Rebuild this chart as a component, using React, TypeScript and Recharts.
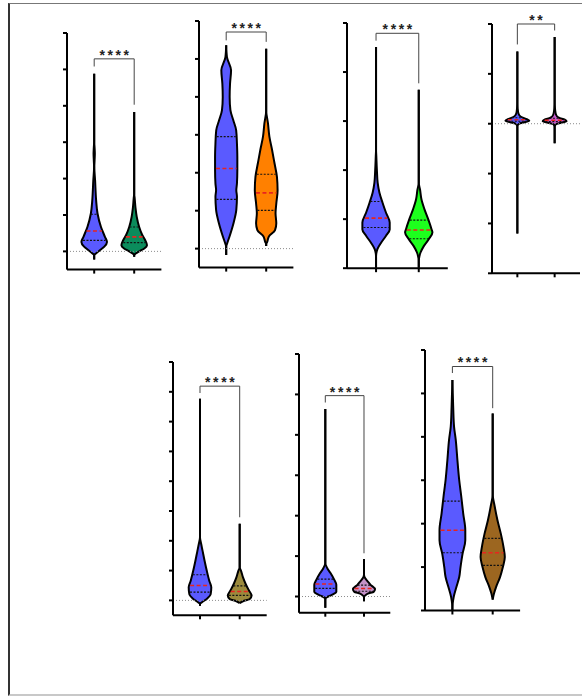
import React from 'react';
import { ComposedChart, Area, XAxis, YAxis, ReferenceLine } from 'recharts';

// Violin outlines: [value, relative density], listed from the top of each violin down
type Profile = [number, number][];

const eyeCtrl: Profile = [[4.88, 0], [3.05, 0], [2.85, 0.03], [2.68, 0.05], [2.5, 0.03], [2.32, 0.01], [1.95, 0.07], [1.41, 0.15], [1.04, 0.26], [0.67, 0.53], [0.4, 0.84], [0.26, 1.0], [0.13, 0.79], [0.04, 0.47], [-0.05, 0.16], [-0.1, 0], [-0.22, 0]];
const eyeTreated: Profile = [[3.83, 0], [1.6, 0], [1.45, 0.04], [1.2, 0.1], [0.95, 0.2], [0.67, 0.39], [0.45, 0.63], [0.3, 0.87], [0.17, 1.0], [0.08, 0.79], [0.0, 0.39], [-0.06, 0.12], [-0.1, 0], [-0.15, 0]];

const areaCtrl: Profile = [[5.36, 0], [5.05, 0.06], [4.7, 0.38], [4.35, 0.3], [4.0, 0.27], [3.65, 0.33], [3.39, 0.55], [3.12, 0.78], [2.77, 0.84], [2.42, 0.87], [2.07, 0.87], [1.72, 0.84], [1.54, 0.79], [1.37, 0.84], [1.02, 0.79], [0.67, 0.57], [0.32, 0.26], [0.14, 0.08], [0.05, 0], [-0.17, 0]];
const areaTreated: Profile = [[5.27, 0], [3.65, 0], [3.3, 0.14], [2.95, 0.25], [2.6, 0.46], [2.25, 0.65], [1.89, 0.84], [1.54, 0.89], [1.19, 0.79], [0.93, 0.73], [0.67, 0.79], [0.49, 0.69], [0.32, 0.21], [0.18, 0.08], [0.12, 0], [0.07, 0]];

const lenCtrl: Profile = [[4.51, 0], [2.42, 0], [2.28, 0.02], [2.01, 0.06], [1.74, 0.12], [1.54, 0.25], [1.34, 0.47], [1.13, 0.73], [0.93, 1.0], [0.79, 1.0], [0.66, 0.73], [0.52, 0.37], [0.39, 0.1], [0.3, 0.02], [0.22, 0], [0.01, 0]];
const lenTreated: Profile = [[3.64, 0], [1.74, 0], [1.61, 0.09], [1.4, 0.2], [1.2, 0.42], [1.0, 0.69], [0.79, 0.94], [0.73, 1.0], [0.59, 0.73], [0.45, 0.37], [0.32, 0.13], [0.2, 0.02], [0.12, 0], [0.01, 0]];

const shiftCtrl: Profile = [[1.45, 0], [0.48, 0], [0.3, 0.03], [0.2, 0.1], [0.14, 0.3], [0.09, 0.8], [0.06, 1.0], [0.03, 0.6], [0.0, 0.15], [-0.05, 0], [-2.2, 0]];
const shiftTreated: Profile = [[1.74, 0], [0.45, 0], [0.28, 0.04], [0.18, 0.12], [0.12, 0.35], [0.08, 0.85], [0.05, 1.0], [0.02, 0.55], [-0.01, 0.1], [-0.06, 0], [-0.39, 0]];

const countCtrl: Profile = [[6.77, 0], [2.12, 0], [1.9, 0.09], [1.67, 0.2], [1.33, 0.36], [1.0, 0.53], [0.66, 0.73], [0.44, 0.89], [0.21, 0.84], [0.05, 0.53], [-0.07, 0.13], [-0.12, 0], [-0.18, 0]];
const countTreated: Profile = [[2.57, 0], [1.11, 0], [1.0, 0.1], [0.77, 0.26], [0.55, 0.47], [0.33, 0.73], [0.16, 0.94], [0.05, 0.79], [-0.03, 0.26], [-0.09, 0]];

const ratioCtrl: Profile = [[4.64, 0], [0.83, 0], [0.7, 0.16], [0.58, 0.42], [0.41, 0.73], [0.29, 0.89], [0.12, 0.89], [0.04, 0.53], [-0.02, 0.1], [-0.06, 0], [-0.28, 0]];
const ratioTreated: Profile = [[0.93, 0], [0.54, 0], [0.45, 0.1], [0.37, 0.31], [0.29, 0.53], [0.18, 0.89], [0.12, 0.79], [0.07, 0.31], [0.02, 0.08], [-0.02, 0], [-0.12, 0]];

const sizeCtrl: Profile = [[5.31, 0], [4.7, 0.06], [4.23, 0.13], [3.93, 0.26], [3.46, 0.39], [3.0, 0.53], [2.62, 0.69], [2.23, 0.84], [1.85, 1.0], [1.62, 1.0], [1.31, 0.79], [1.0, 0.63], [0.77, 0.53], [0.54, 0.31], [0.31, 0.1], [0.15, 0.02], [0.0, 0]];
const sizeTreated: Profile = [[4.54, 0], [2.69, 0], [2.39, 0.16], [2.08, 0.37], [1.77, 0.63], [1.46, 0.84], [1.23, 0.94], [1.0, 0.79], [0.77, 0.57], [0.54, 0.26], [0.39, 0.1], [0.25, 0]];

// Quartiles per violin: [Q3, median, Q1]
const eyeQ: [number, number, number][] = [[1.02, 0.56, 0.3], [0.67, 0.4, 0.24]];
const areaQ: [number, number, number][] = [[2.95, 2.11, 1.3], [1.96, 1.47, 1.01]];
const lenQ: [number, number, number][] = [[1.36, 1.02, 0.83], [0.98, 0.78, 0.6]];
const shiftQ: [number, number, number][] = [[0.12, 0.08, 0.05], [0.11, 0.07, 0.04]];
const countQ: [number, number, number][] = [[0.86, 0.5, 0.28], [0.49, 0.3, 0.17]];
const ratioQ: [number, number, number][] = [[0.43, 0.31, 0.2], [0.28, 0.2, 0.13]];
const sizeQ: [number, number, number][] = [[2.52, 1.85, 1.33], [1.66, 1.33, 1.04]];

// Significance brackets: [bar level, left leg end, right leg end]
const eyeBracket = [5.29, 5.08, 4.03];
const areaBracket = [5.71, 5.49, 5.45];
const lenBracket = [4.79, 4.64, 3.77];
const shiftBracket = [2.0, 1.59, 1.87];
const countBracket = [7.19, 6.96, 2.79];
const ratioBracket = [4.97, 4.8, 1.07];
const sizeBracket = [5.62, 5.47, 4.66];

const stars = ['****', '****', '****', '**', '****', '****', '****'];

// Y tick values for each panel
const ticks0to6 = [0, 1, 2, 3, 4, 5, 6];
const ticks0to5 = [0, 1, 2, 3, 4, 5];
const ticksShift = [-3, -2, -1, 0, 1, 2];
const ticks0to8 = [0, 1, 2, 3, 4, 5, 6, 7, 8];

const BLUE = '#5a5aff';
const X_DOMAIN: [number, number] = [0.32, 2.68];
const HALF = 0.32;

interface PanelSpec {
  box: [number, number, number, number];
  yDomain: [number, number];
  yTicks: number[];
  profiles: [Profile, Profile];
  quartiles: [number, number, number][];
  fills: [string, string];
  bracket: number[];
  stars: string;
  zeroLine: boolean;
}

const panels: PanelSpec[] = [
  { box: [66.7, 32.7, 94.4, 236.6], yDomain: [-0.5, 6], yTicks: ticks0to6, profiles: [eyeCtrl, eyeTreated], quartiles: eyeQ, fills: [BLUE, '#0b8c5c'], bracket: eyeBracket, stars: stars[0], zeroLine: true },
  { box: [199, 20.7, 94.4, 246.6], yDomain: [-0.5, 6], yTicks: ticks0to6, profiles: [areaCtrl, areaTreated], quartiles: areaQ, fills: [BLUE, '#ff8000'], bracket: areaBracket, stars: stars[1], zeroLine: true },
  { box: [346.7, 23.3, 100.8, 245.2], yDomain: [0, 5], yTicks: ticks0to5, profiles: [lenCtrl, lenTreated], quartiles: lenQ, fills: [BLUE, '#1dff1d'], bracket: lenBracket, stars: stars[2], zeroLine: false },
  { box: [492, 24, 88, 249.3], yDomain: [-3, 2], yTicks: ticksShift, profiles: [shiftCtrl, shiftTreated], quartiles: shiftQ, fills: [BLUE, '#c95ad0'], bracket: shiftBracket, stars: stars[3], zeroLine: true },
  { box: [172.7, 361.7, 93.7, 253.3], yDomain: [-0.5, 8], yTicks: ticks0to8, profiles: [countCtrl, countTreated], quartiles: countQ, fills: [BLUE, '#9b8a3c'], bracket: countBracket, stars: stars[4], zeroLine: true },
  { box: [298.6, 354, 91.3, 258.7], yDomain: [-0.4, 6], yTicks: ticks0to6, profiles: [ratioCtrl, ratioTreated], quartiles: ratioQ, fills: [BLUE, '#c592c8'], bracket: ratioBracket, stars: stars[5], zeroLine: true },
  { box: [425, 350, 95.1, 260.5], yDomain: [0, 6], yTicks: ticks0to6, profiles: [sizeCtrl, sizeTreated], quartiles: sizeQ, fills: [BLUE, '#9c6620'], bracket: sizeBracket, stars: stars[6], zeroLine: false },
];

function densityAt(profile: Profile, v: number): number {
  for (let i = 0; i < profile.length - 1; i++) {
    const [v0, d0] = profile[i];
    const [v1, d1] = profile[i + 1];
    if (v <= v0 && v >= v1) {
      const t = v0 === v1 ? 0 : (v0 - v) / (v0 - v1);
      return d0 + t * (d1 - d0);
    }
  }
  return 0;
}

function outline(profile: Profile, center: number) {
  return profile.map(([v, d]) => ({ v, span: [center - d * HALF, center + d * HALF] }));
}

// Tick marks only, no tick text
const NoLabel = () => <g />;

const M = { top: 22, right: 10, bottom: 0, left: 0 };

function Panel({ spec }: { spec: PanelSpec }) {
  const [left, top, w, h] = spec.box;
  const [bar, legL, legR] = spec.bracket;
  return (
    <div style={{ position: 'absolute', left: left - 10, top: top - 22 }}>
      <ComposedChart layout="vertical" width={w + 20} height={h + 32} margin={M}>
        <XAxis
          type="number"
          domain={X_DOMAIN}
          ticks={[1, 2]}
          interval={0}
          tick={NoLabel}
          tickSize={4}
          height={10}
          allowDataOverflow
          axisLine={{ stroke: '#000', strokeWidth: 2 }}
          tickLine={{ stroke: '#000', strokeWidth: 2 }}
        />
        <YAxis
          type="number"
          dataKey="v"
          reversed
          domain={spec.yDomain}
          ticks={spec.yTicks}
          interval={0}
          tick={NoLabel}
          tickSize={4}
          width={10}
          allowDataOverflow
          axisLine={{ stroke: '#000', strokeWidth: 2 }}
          tickLine={{ stroke: '#000', strokeWidth: 2 }}
        />
        {spec.zeroLine && (
          <ReferenceLine y={0} stroke="#8a8a8a" strokeWidth={1} strokeDasharray="1 2" />
        )}
        {spec.profiles.map((p, i) => (
          <Area
            key={`v${i}`}
            data={outline(p, i + 1)}
            dataKey="span"
            type="monotone"
            fill={spec.fills[i]}
            fillOpacity={1}
            stroke="#000"
            strokeWidth={2}
            dot={false}
            activeDot={false}
            isAnimationActive={false}
          />
        ))}
        {spec.quartiles.map((q, i) =>
          q.map((val, j) => {
            const c = i + 1;
            const half = densityAt(spec.profiles[i], val) * HALF * 0.92;
            const isMedian = j === 1;
            return (
              <ReferenceLine
                key={`q${i}-${j}`}
                segment={[{ x: c - half, y: val }, { x: c + half, y: val }]}
                stroke={isMedian ? '#e8251f' : '#111'}
                strokeWidth={isMedian ? 1.6 : 1.2}
                strokeDasharray={isMedian ? '4 2.5' : '2 1.5'}
              />
            );
          })
        )}
        <ReferenceLine segment={[{ x: 1, y: legL }, { x: 1, y: bar }]} stroke="#444" strokeWidth={1} />
        <ReferenceLine segment={[{ x: 2, y: legR }, { x: 2, y: bar }]} stroke="#444" strokeWidth={1} />
        <ReferenceLine
          segment={[{ x: 1, y: bar }, { x: 2, y: bar }]}
          stroke="#444"
          strokeWidth={1}
          label={{
            value: spec.stars,
            position: 'top',
            offset: -1,
            fontSize: 14,
            fontWeight: 'bold',
            fill: '#222',
            letterSpacing: 2.6,
            dx: 1.3,
            fontFamily: 'Liberation Sans, Arial, sans-serif',
          }}
        />
      </ComposedChart>
    </div>
  );
}

export default function App() {
  return (
    <div style={{ position: 'absolute', left: 0, top: 0, width: 582, height: 696, background: '#fff', overflow: 'hidden' }}>
      <div
        style={{
          position: 'absolute',
          left: 8,
          top: 3,
          width: 600,
          height: 690,
          borderTop: '1px solid #777',
          borderLeft: '2px solid #333',
          borderBottom: '2px solid #c8c8c8',
        }}
      />
      {panels.map((p, i) => (
        <Panel key={i} spec={p} />
      ))}
    </div>
  );
}
